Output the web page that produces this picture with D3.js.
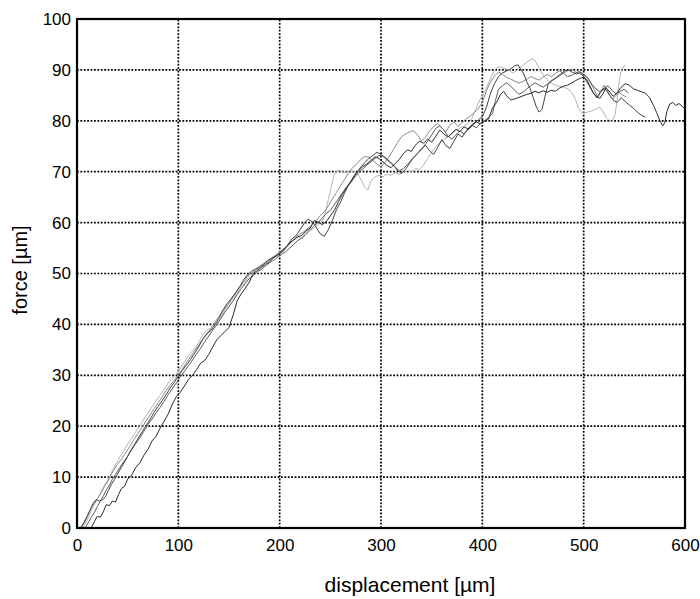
<!DOCTYPE html>
<html>
<head>
<meta charset="utf-8">
<script src="https://cdn.jsdelivr.net/npm/d3@7"></script>
<style>
  body { margin: 0; background: #fff; }
  text { font-family: "Liberation Sans", Arial, sans-serif; }
</style>
</head>
<body>
<script>
// tick values
var xTicks = [0, 100, 200, 300, 400, 500, 600];
var yTicks = [0, 10, 20, 30, 40, 50, 60, 70, 80, 90, 100];

// five test curves, [displacement, force]
var curveA = [[14,0],[17,1.2],[20,2.3],[23,2.1],[26,3.2],[29,4.6],[32,4.4],[35,5.3],[38,5.1],[41,6.6],[44,7.8],[47,8.2],[50,9.6],[54,10.4],[58,11.9],[62,12.8],[66,14.3],[70,15.4],[74,17.1],[78,18.0],[82,19.6],[86,21.0],[90,22.4],[94,24.3],[98,25.8],[102,26.7],[106,27.9],[110,29.2],[114,30.0],[118,31.1],[122,32.4],[126,32.9],[130,34.1],[134,35.6],[138,37.0],[142,37.8],[146,38.6],[150,39.4],[154,41.8],[158,44.6],[162,46.0],[166,47.1],[170,48.3],[174,50.0],[178,50.6],[182,51.2],[186,51.8],[190,52.3],[194,53.1],[198,53.6],[202,54.4],[206,55.2],[210,56.0],[214,56.6],[218,57.2],[222,57.5],[226,58.4],[230,58.9],[234,60.4],[238,60.1],[242,59.6],[246,60.2],[250,61.3],[254,62.4],[258,64.1],[262,65.6],[266,66.8],[270,68.0],[274,69.4],[278,70.2],[282,71.0],[286,71.5],[290,72.2],[294,72.9],[298,72.6],[302,71.9],[306,71.2],[310,70.8],[314,71.6],[318,72.4],[322,73.5],[326,74.3],[330,74.0],[334,75.2],[338,76.0],[342,75.6],[346,76.4],[350,75.8],[354,76.9],[358,78.2],[362,77.4],[366,76.8],[370,77.6],[374,78.3],[378,77.9],[382,78.8],[386,78.4],[390,79.3],[394,79.8],[398,79.4],[402,79.9],[406,80.3],[410,82.5],[414,83.6],[418,85.2],[421,85.8],[424,84.9],[428,84.1],[432,84.3],[436,84.6],[440,84.9],[444,85.2],[448,85.4],[452,85.8],[456,85.5],[460,85.9],[464,85.6],[468,86.0],[472,85.8],[476,86.4],[480,86.8],[484,87.0],[488,87.4],[492,87.9],[496,88.3],[500,88.6],[503,88.1],[506,86.9],[509,85.6],[512,84.9],[516,84.4],[519,85.3],[522,86.5],[526,85.6],[529,84.8],[533,85.5],[537,86.6],[541,87.3],[545,87.0],[549,86.3],[553,86.0],[557,85.7],[561,85.4],[565,84.6],[569,83.0],[572,81.6],[575,80.1],[578,79.0],[580,79.6],[582,81.8],[585,83.3],[588,83.6],[591,83.0],[594,83.4],[597,82.9],[600,82.3]];

var curveB = [[4,0],[7,1.0],[10,2.2],[13,3.6],[16,4.9],[19,5.6],[22,5.3],[25,5.5],[28,6.1],[31,7.4],[34,8.6],[37,9.5],[40,10.6],[44,12.0],[48,13.3],[52,14.9],[56,16.2],[60,17.5],[64,18.8],[68,20.1],[72,21.3],[76,22.7],[80,23.9],[84,25.0],[88,26.2],[92,27.5],[96,28.6],[100,29.8],[104,31.0],[108,32.0],[112,33.1],[116,34.3],[120,35.6],[124,37.0],[128,38.2],[132,38.8],[136,39.9],[140,41.2],[144,42.8],[148,44.1],[152,45.0],[156,46.1],[160,47.2],[164,48.6],[168,49.7],[172,50.4],[176,50.9],[180,51.2],[184,51.7],[188,52.5],[192,53.0],[196,53.4],[200,53.9],[204,54.5],[208,55.6],[212,56.8],[216,57.4],[220,58.6],[224,59.8],[228,60.7],[232,60.2],[236,59.1],[240,57.8],[244,57.3],[248,58.6],[252,60.4],[256,62.5],[260,64.0],[264,65.8],[268,67.5],[272,68.6],[276,69.8],[280,70.9],[284,71.8],[288,72.6],[292,73.2],[296,73.8],[300,73.4],[304,72.8],[308,72.1],[312,71.4],[316,70.3],[320,69.7],[324,70.4],[328,71.6],[332,72.8],[336,73.6],[340,74.5],[344,75.2],[348,74.1],[352,73.4],[356,74.8],[360,76.3],[364,75.1],[368,74.6],[372,76.0],[376,77.4],[380,76.8],[384,77.9],[388,78.6],[392,79.4],[396,80.2],[400,80.8],[404,82.6],[408,85.4],[412,87.3],[416,88.7],[420,89.4],[424,89.8],[428,90.2],[432,90.8],[435,91.0],[438,90.1],[441,89.2],[444,87.6],[447,86.4],[450,84.7],[453,82.9],[456,81.7],[459,82.3],[462,84.9],[465,87.2],[469,88.0],[473,88.5],[477,89.2],[481,89.8],[485,90.0],[489,89.5],[493,89.2],[497,89.5],[501,88.4],[505,87.0],[509,85.7],[513,84.5],[517,85.8],[521,86.3],[525,85.2],[529,84.1],[533,83.6],[537,84.5],[541,83.8],[545,83.1],[549,82.5],[553,81.7],[557,81.1],[561,80.7]];

var curveC = [[3,0],[6,0.9],[9,2.0],[12,3.1],[15,4.3],[18,5.1],[21,6.0],[24,7.0],[27,8.1],[30,9.0],[33,10.2],[36,11.3],[40,12.5],[44,13.6],[48,14.8],[52,16.0],[56,17.3],[60,18.6],[64,19.7],[68,21.0],[72,22.2],[76,23.4],[80,24.6],[84,25.7],[88,27.0],[92,28.1],[96,29.0],[100,30.2],[104,31.2],[108,32.5],[112,33.6],[116,34.8],[120,35.9],[124,37.1],[128,38.0],[132,39.2],[136,40.4],[140,41.5],[144,42.7],[148,43.6],[152,44.9],[156,46.0],[160,47.3],[164,48.2],[168,49.4],[172,50.1],[176,50.6],[180,51.5],[184,51.9],[188,52.4],[192,52.8],[196,53.5],[200,54.1],[204,54.8],[208,55.4],[212,56.3],[216,57.1],[220,57.8],[224,58.2],[228,58.9],[232,59.5],[236,60.3],[240,61.4],[244,62.1],[248,63.3],[252,64.6],[256,65.9],[260,67.2],[264,68.5],[268,69.7],[272,70.8],[276,71.5],[280,72.4],[284,73.0],[288,72.8],[292,72.2],[296,71.5],[300,70.9],[304,71.8],[308,72.9],[312,74.3],[316,75.6],[320,76.8],[324,77.4],[328,77.8],[332,78.1],[336,77.2],[340,76.0],[344,76.8],[348,78.0],[352,78.9],[356,79.5],[360,78.6],[364,77.9],[368,79.1],[372,79.8],[376,78.9],[380,79.6],[384,80.4],[388,80.9],[392,81.6],[396,82.4],[400,83.6],[404,85.9],[408,87.6],[412,88.8],[416,89.6],[420,89.1],[424,88.5],[428,88.2],[432,87.8],[436,87.4],[440,87.7],[444,88.2],[448,88.7],[452,88.3],[456,88.0],[460,88.6],[464,89.1],[468,88.7],[472,89.3],[476,89.8],[480,89.4],[484,89.8],[488,90.1],[492,89.6],[496,89.3],[500,88.9],[503,88.6],[507,87.4],[511,85.9],[514,84.6],[517,85.7],[520,87.0],[523,86.2],[526,84.9],[529,84.3],[532,85.0],[535,85.6],[538,85.1],[542,84.7]];

var curveD = [[6,0],[9,1.2],[12,2.5],[15,3.8],[18,4.9],[21,6.1],[24,7.2],[27,8.4],[30,9.3],[33,10.5],[36,11.7],[39,12.8],[42,13.9],[46,15.1],[50,16.5],[54,17.6],[58,18.9],[62,20.1],[66,21.4],[70,22.6],[74,23.8],[78,25.0],[82,26.1],[86,27.2],[90,28.5],[94,29.4],[98,30.3],[102,31.4],[106,32.6],[110,33.9],[114,34.8],[118,35.7],[122,37.2],[126,38.5],[130,39.1],[134,39.0],[138,39.8],[142,41.4],[146,42.9],[150,44.0],[154,45.2],[158,46.3],[162,47.5],[166,48.3],[170,49.5],[174,50.2],[178,50.9],[182,51.6],[186,52.3],[190,52.9],[194,53.4],[198,54.0],[202,54.6],[206,55.1],[210,55.9],[214,56.7],[218,57.3],[222,56.8],[226,57.6],[230,58.5],[234,58.9],[238,59.6],[242,60.3],[245,61.8],[248,64.5],[251,67.2],[254,69.4],[257,70.3],[261,70.1],[265,69.8],[269,70.2],[273,70.0],[277,69.6],[281,68.2],[284,66.9],[287,66.4],[290,68.1],[294,69.0],[298,69.3],[302,69.0],[306,69.5],[310,69.3],[314,69.8],[318,69.5],[322,69.9],[326,70.2],[330,70.0],[334,70.6],[338,70.4],[342,71.3],[346,72.6],[350,73.8],[354,74.9],[358,75.6],[362,76.3],[366,76.8],[370,77.5],[374,78.2],[378,78.6],[382,79.0],[386,79.4],[390,80.6],[394,82.5],[398,84.3],[402,85.6],[406,87.4],[410,89.2],[414,90.4],[418,90.6],[422,90.3],[426,90.0],[430,89.4],[434,89.9],[438,90.6],[442,91.2],[446,91.8],[450,92.2],[453,91.5],[456,90.3],[460,89.0],[464,88.1],[468,87.4],[472,87.0],[476,86.8],[480,86.6],[484,86.3],[488,85.6],[492,84.2],[495,82.4],[498,81.6],[501,81.5],[505,81.8],[509,82.0],[513,82.4],[516,82.7],[519,81.9],[522,80.7],[525,80.1],[528,79.8],[531,81.2],[533,84.0],[535,87.6],[537,89.8],[539,90.6],[541,91.0]];

var curveE = [[8,0],[11,1.0],[14,2.1],[17,3.0],[20,4.2],[23,5.3],[26,6.3],[29,7.5],[32,8.4],[35,9.6],[38,10.5],[42,11.8],[46,13.0],[50,14.1],[54,15.4],[58,16.6],[62,17.7],[66,19.0],[70,20.3],[74,21.4],[78,22.6],[82,23.7],[86,24.9],[90,26.2],[94,27.3],[98,28.5],[102,29.7],[106,30.8],[110,31.9],[114,33.0],[118,34.2],[122,35.3],[126,36.6],[130,37.7],[134,38.9],[138,40.0],[142,41.2],[146,42.4],[150,43.5],[154,44.6],[158,45.9],[162,47.0],[166,48.0],[170,49.0],[174,49.6],[178,50.4],[182,50.8],[186,51.5],[190,52.1],[194,52.6],[198,53.2],[202,53.8],[206,54.3],[210,55.0],[214,55.8],[218,56.5],[222,57.0],[226,57.9],[230,58.6],[234,59.4],[238,60.0],[242,60.9],[246,61.8],[250,62.4],[254,63.5],[258,64.7],[262,65.9],[266,67.0],[270,67.8],[274,68.9],[278,69.8],[282,70.5],[286,71.3],[290,71.9],[294,72.6],[298,73.2],[302,73.0],[306,72.4],[310,71.6],[314,70.9],[318,70.2],[322,70.6],[326,71.4],[330,72.3],[334,73.1],[338,74.0],[342,74.9],[346,76.0],[350,77.2],[354,78.5],[358,79.0],[362,78.2],[366,77.0],[370,76.4],[374,77.3],[378,78.0],[382,77.4],[386,78.5],[390,79.1],[394,78.6],[398,79.5],[402,80.0],[406,80.6],[410,81.4],[413,84.0],[416,86.2],[420,86.9],[424,87.5],[428,86.8],[432,86.0],[436,85.2],[440,85.6],[444,86.3],[448,86.9],[452,87.5],[456,87.0],[460,86.6],[464,87.2],[468,87.8],[472,88.3],[476,88.8],[480,89.4],[484,88.7],[488,88.9],[492,89.4],[496,89.7],[500,89.1],[504,88.5],[508,87.2],[512,86.3],[516,85.7],[520,86.4],[524,86.9],[528,86.0],[532,85.3],[536,85.8],[540,86.2],[544,85.5]];

var curves = [curveD, curveC, curveE, curveB, curveA];
var curveColors = ['#b4b4b4', '#8a8a8a', '#5a5a5a', '#444444', '#2a2a2a'];

var width = 700,
  height = 599;
var margin = {
  top: 19,
  bottom: 71,
  left: 77,
  right: 15
};

var svg = d3.select('body')
  .append('svg')
  .attr('width', width)
  .attr('height', height)
  .style('background', '#fff');

var xScale = d3.scaleLinear()
  .domain([0, 600])
  .range([margin.left, width - margin.right]);

var yScale = d3.scaleLinear()
  .domain([0, 100])
  .range([height - margin.bottom, margin.top]);

// dotted grid
svg.append('g')
  .selectAll('line')
  .data(xTicks.slice(1, -1))
  .enter()
  .append('line')
  .attr('x1', function(d) { return xScale(d); })
  .attr('x2', function(d) { return xScale(d); })
  .attr('y1', yScale(0))
  .attr('y2', yScale(100))
  .attr('stroke', '#000')
  .attr('stroke-width', 1.7)
  .attr('stroke-dasharray', '1.8,1.6');

svg.append('g')
  .selectAll('line')
  .data(yTicks.slice(1, -1))
  .enter()
  .append('line')
  .attr('y1', function(d) { return yScale(d); })
  .attr('y2', function(d) { return yScale(d); })
  .attr('x1', xScale(0))
  .attr('x2', xScale(600))
  .attr('stroke', '#000')
  .attr('stroke-width', 1.7)
  .attr('stroke-dasharray', '1.8,1.6');

// curves
var line = d3.line()
  .x(function(d) { return xScale(d[0]); })
  .y(function(d) { return yScale(d[1]); });

svg.append('g')
  .selectAll('path')
  .data(curves)
  .enter()
  .append('path')
  .attr('d', line)
  .attr('fill', 'none')
  .attr('stroke', function(d, i) { return curveColors[i]; })
  .attr('stroke-width', 1)
  .attr('stroke-linejoin', 'round');

// axes
var xAxis = svg.append('g')
  .attr('transform', `translate(0,${yScale(0)})`)
  .call(d3.axisBottom(xScale).tickValues(xTicks).tickSize(0).tickPadding(11));

var yAxis = svg.append('g')
  .attr('transform', `translate(${xScale(0)},0)`)
  .call(d3.axisLeft(yScale).tickValues(yTicks).tickSize(0).tickPadding(6));

svg.selectAll('.domain').remove();
svg.selectAll('.tick text')
  .style('font-family', '"Liberation Sans", Arial, sans-serif')
  .style('font-size', '17px')
  .attr('fill', '#000');

// frame
svg.append('rect')
  .attr('x', xScale(0))
  .attr('y', yScale(100))
  .attr('width', xScale(600) - xScale(0))
  .attr('height', yScale(0) - yScale(100))
  .attr('fill', 'none')
  .attr('stroke', '#000')
  .attr('stroke-width', 2.2);

// labels
svg.append('text')
  .attr('x', 410)
  .attr('y', 592)
  .attr('text-anchor', 'middle')
  .style('font-size', '21px')
  .text('displacement [µm]');

svg.append('text')
  .attr('transform', 'translate(27,270) rotate(-90)')
  .attr('text-anchor', 'middle')
  .style('font-size', '20px')
  .text('force [µm]');
</script>
</body>
</html>
